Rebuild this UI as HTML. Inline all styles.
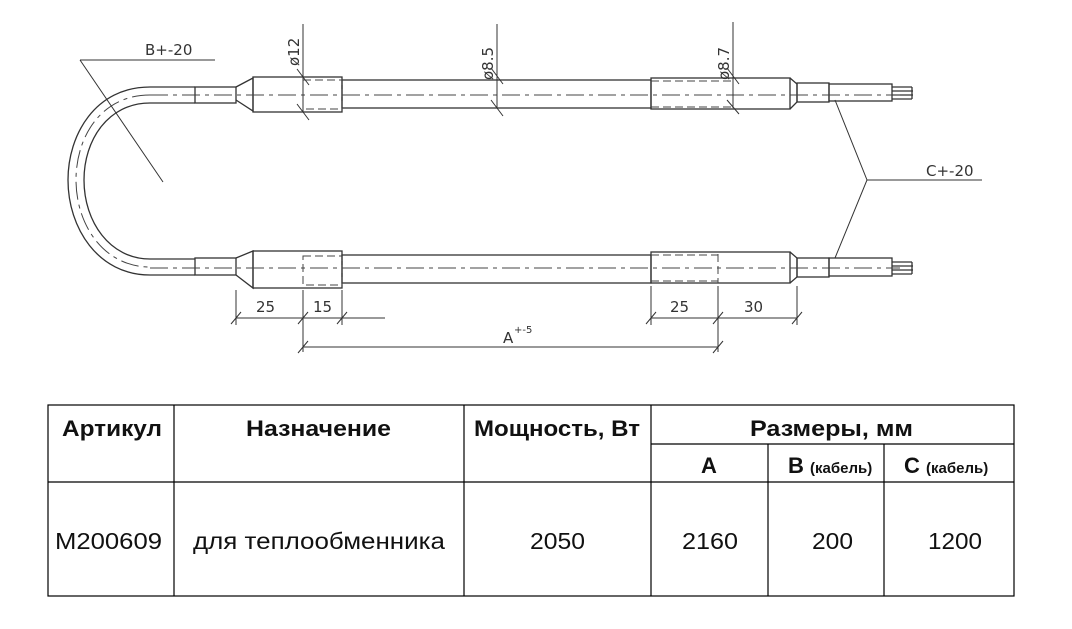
<!DOCTYPE html>
<html><head><meta charset="utf-8"><style>
body{margin:0;background:#fff;width:1072px;height:629px;overflow:hidden}
svg{display:block}
.t{font-family:"Liberation Sans","DejaVu Sans",sans-serif;fill:#111}
.c{font-family:"DejaVu Sans","Liberation Sans",sans-serif;fill:#333;font-size:15px}
</style></head><body>
<svg width="1072" height="629" viewBox="0 0 1072 629" xmlns="http://www.w3.org/2000/svg">
<g stroke="#333" stroke-width="1.3" fill="none">
<!-- top assembly -->
<rect x="195" y="87" width="41" height="16"/>
<path d="M236 87 L253 78 L253 111 L236 100"/>
<rect x="253" y="77" width="89" height="35"/>
<rect x="342" y="80" width="309" height="28"/>
<rect x="651" y="78" width="139" height="31"/>
<path d="M790 78 L797 84 L797 102 L790 109"/>
<rect x="797" y="83" width="32" height="19"/>
<rect x="829" y="84" width="63" height="17"/>
<path d="M892 87 h20 M892 91 h21 M892 95 h21 M892 99 h20 M912 87 v12"/>
<!-- bottom assembly -->
<rect x="195" y="258" width="41" height="17"/>
<path d="M236 258 L253 251 L253 288 L236 275"/>
<rect x="253" y="251" width="89" height="37"/>
<rect x="342" y="255" width="309" height="28"/>
<rect x="651" y="252" width="139" height="31"/>
<path d="M790 252 L797 258 L797 277 L790 283"/>
<rect x="797" y="258" width="32" height="19"/>
<rect x="829" y="258" width="63" height="18"/>
<path d="M892 262 h20 M892 266 h21 M892 270 h21 M892 274 h20 M912 262 v12"/>
<!-- hose curve -->
<path d="M195 87 L150 87 C95 87 68 135 68 180 C68 228 98 275 150 275 L195 275"/>
<path d="M195 103 L150 103 C108 103 84 140 84 180 C84 222 110 259 150 259 L195 259"/>
</g>
<g stroke="#444" stroke-width="1" fill="none" stroke-dasharray="18 5 4 5">
<path d="M150 95 C101 95 76 137 76 180 C76 225 104 267 150 267"/>
<path d="M150 95 H900"/>
<path d="M150 268 H900"/>
</g>
<g stroke="#444" stroke-width="1" fill="none" stroke-dasharray="8 4">
<rect x="303" y="80" width="39" height="29"/>
<rect x="303" y="256" width="39" height="29"/>
<path d="M651 81 H733 M651 107 H733 M733 80 V108 M651 255 H718 M651 281 H718 M718 254 V283"/>
</g>
<g stroke="#333" stroke-width="1" fill="none">
<path d="M303 24 V112 M297 69 L309 85 M297 104 L309 120"/>
<path d="M497 24 V108 M491 68 L503 84 M491 100 L503 116"/>
<path d="M733 22 V108 M727 68 L739 84 M727 100 L739 114"/>
<path d="M236 290 V325 M303 290 V352 M342 290 V325 M236 318 H385"/>
<path d="M231 324 L241 312 M298 324 L308 312 M337 324 L347 312"/>
<path d="M303 347 H718 M298 353 L308 341 M713 353 L723 341"/>
<path d="M651 286 V325 M718 286 V352 M797 286 V325 M651 318 H797"/>
<path d="M646 324 L656 312 M713 324 L723 312 M792 324 L802 312"/>
<path d="M80 60 H215 M80 60 L163 182"/>
<path d="M835 100 L867 180 L835 258 M867 180 H982"/>
</g>
<g class="c">
<text x="145" y="55">B+-20</text>
<text x="926" y="176">C+-20</text>
<text x="256" y="312">25</text>
<text x="313" y="312">15</text>
<text x="670" y="312">25</text>
<text x="744" y="312">30</text>
<text x="503" y="343">A</text><text x="514" y="333" font-size="10">+-5</text>
<text transform="translate(299,66) rotate(-90)">ø12</text>
<text transform="translate(493,80) rotate(-90)">ø8.5</text>
<text transform="translate(729,80) rotate(-90)">ø8.7</text>
</g>
<g stroke="#000" stroke-width="1.2" fill="none">
<rect x="48" y="405" width="966" height="191"/>
<path d="M174 405 V596 M464 405 V596 M651 405 V596 M768 444 V596 M884 444 V596 M651 444 H1014 M48 482 H1014"/>
</g>
<g class="t" font-size="22" font-weight="bold">
<text x="62" y="436" textLength="100" lengthAdjust="spacingAndGlyphs">Артикул</text>
<text x="246" y="436" textLength="145" lengthAdjust="spacingAndGlyphs">Назначение</text>
<text x="474" y="436" textLength="166" lengthAdjust="spacingAndGlyphs">Мощность, Вт</text>
<text x="750" y="436" textLength="163" lengthAdjust="spacingAndGlyphs">Размеры, мм</text>
<text x="701" y="473">A</text>
<text x="788" y="473">B <tspan font-size="15">(кабель)</tspan></text>
<text x="904" y="473">C <tspan font-size="15">(кабель)</tspan></text>
</g>
<g class="t" font-size="23">
<text x="55" y="549" textLength="107" lengthAdjust="spacingAndGlyphs">M200609</text>
<text x="193" y="549" textLength="252" lengthAdjust="spacingAndGlyphs">для теплообменника</text>
<text x="530" y="549" textLength="55" lengthAdjust="spacingAndGlyphs">2050</text>
<text x="682" y="549" textLength="56" lengthAdjust="spacingAndGlyphs">2160</text>
<text x="812" y="549" textLength="41" lengthAdjust="spacingAndGlyphs">200</text>
<text x="928" y="549" textLength="54" lengthAdjust="spacingAndGlyphs">1200</text>
</g>
</svg>
</body></html>
